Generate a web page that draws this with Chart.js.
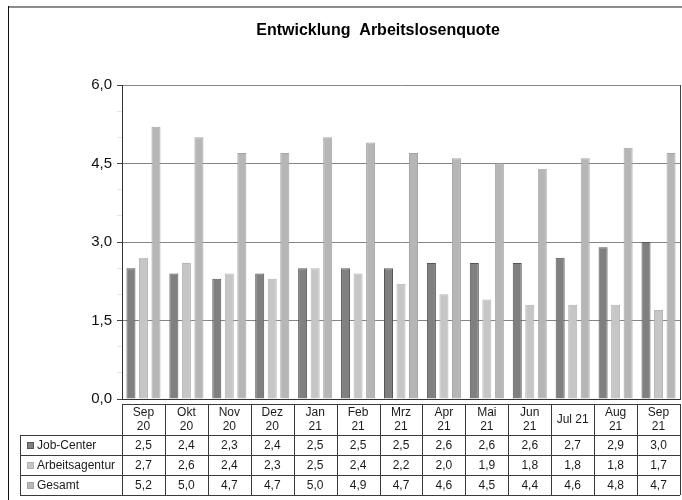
<!DOCTYPE html>
<html>
<head>
<meta charset="utf-8">
<script src="https://cdn.jsdelivr.net/npm/chart.js@4"></script>
<style>
  body { margin: 0; background: #fff; }
  #wrap { width: 682px; height: 500px; }
</style>
</head>
<body>
<div id="wrap"><canvas id="myChart" width="682" height="500"></canvas></div>
<script>
  // months (two-line labels like in the data table)
  const months = [["Sep", "20"], ["Okt", "20"], ["Nov", "20"], ["Dez", "20"], ["Jan", "21"], ["Feb", "21"],
    ["Mrz", "21"], ["Apr", "21"], ["Mai", "21"], ["Jun", "21"], ["Jul 21"], ["Aug", "21"], ["Sep", "21"]];

  const seriesNames = ["Job-Center", "Arbeitsagentur", "Gesamt"];
  const jobCenter = [2.5, 2.4, 2.3, 2.4, 2.5, 2.5, 2.5, 2.6, 2.6, 2.6, 2.7, 2.9, 3.0];
  const arbeitsagentur = [2.7, 2.6, 2.4, 2.3, 2.5, 2.4, 2.2, 2.0, 1.9, 1.8, 1.8, 1.8, 1.7];
  const gesamt = [5.2, 5.0, 4.7, 4.7, 5.0, 4.9, 4.7, 4.6, 4.5, 4.4, 4.6, 4.8, 4.7];

  const chartTitle = "Entwicklung  Arbeitslosenquote";
  const yMax = 6;
  const yMajorStep = 1.5;

  const fillColors = ["#808080", "#c6c6c6", "#b6b6b6"];
  const borderColors = ["#555555", "#b4b4b4", "#a6a6a6"];
  const fontFamily = "'Liberation Sans', Arial, sans-serif";

  function fmt(v) {
    return v.toFixed(1).replace(".", ",");
  }
  function isMajor(v) {
    return Math.abs(v / yMajorStep - Math.round(v / yMajorStep)) < 1e-6;
  }

  //frame, title, right border and the data table below the plot
  const tablePlugin = {
    id: "dataTable",
    beforeDraw(chart) {
      const ctx = chart.ctx;
      ctx.save();
      ctx.fillStyle = "#fff";
      ctx.fillRect(0, 0, chart.width, chart.height);
      ctx.restore();
    },
    afterDraw(chart) {
      const ctx = chart.ctx;
      const area = chart.chartArea;
      const x = chart.scales.x;
      ctx.save();

      // outer frame
      ctx.fillStyle = "#8c8c8c";
      ctx.fillRect(8, 6, chart.width - 8, 2);
      ctx.fillStyle = "#111";
      ctx.fillRect(8, 6, 1, chart.height - 6);

      // title
      ctx.fillStyle = "#000";
      ctx.font = "bold 16px " + fontFamily;
      ctx.textAlign = "center";
      ctx.textBaseline = "middle";
      ctx.fillText(chartTitle, 378, 31);

      // right border of plot
      ctx.strokeStyle = "#444";
      ctx.lineWidth = 1;
      ctx.beginPath();
      ctx.moveTo(area.right + 0.5, area.top);
      ctx.lineTo(area.right + 0.5, area.bottom);
      ctx.stroke();

      // table geometry
      const half = (x.getPixelForValue(1) - x.getPixelForValue(0)) / 2;
      const headTop = area.bottom + 5;
      const headBottom = headTop + 31;
      const rowH = 20;
      const labelLeft = 20;
      const tableRight = x.getPixelForValue(months.length - 1) + half;
      const tableBottom = headBottom + rowH * seriesNames.length;

      ctx.strokeStyle = "#3a3a3a";
      ctx.beginPath();
      // header row box
      ctx.moveTo(area.left, headTop + 0.5);
      ctx.lineTo(tableRight, headTop + 0.5);
      // horizontal row lines
      for (let r = 0; r <= seriesNames.length; r++) {
        const yy = Math.round(headBottom + r * rowH) + 0.5;
        ctx.moveTo(labelLeft, yy);
        ctx.lineTo(tableRight, yy);
      }
      // vertical lines
      ctx.moveTo(labelLeft + 0.5, headBottom);
      ctx.lineTo(labelLeft + 0.5, tableBottom);
      for (let i = 0; i <= months.length; i++) {
        const xx = Math.round(x.getPixelForValue(i) - half) + 0.5;
        ctx.moveTo(xx, headTop);
        ctx.lineTo(xx, tableBottom);
      }
      ctx.stroke();

      ctx.fillStyle = "#1a1a1a";
      ctx.font = "12px " + fontFamily;
      ctx.textAlign = "center";
      ctx.textBaseline = "middle";
      // header labels
      months.forEach((m, i) => {
        const cx = x.getPixelForValue(i);
        if (m.length === 1) {
          ctx.fillText(m[0], cx, (headTop + headBottom) / 2);
        } else {
          ctx.fillText(m[0], cx, headTop + 9);
          ctx.fillText(m[1], cx, headTop + 23);
        }
      });

      // rows
      const rows = chart.data.datasets;
      rows.forEach((ds, r) => {
        const cy = headBottom + r * rowH + rowH / 2 + 0.5;
        ctx.fillStyle = fillColors[r];
        ctx.fillRect(labelLeft + 7, cy - 3.5, 7, 7);
        ctx.strokeStyle = borderColors[r];
        ctx.strokeRect(labelLeft + 7.5, cy - 3, 6, 6);
        ctx.fillStyle = "#1a1a1a";
        ctx.textAlign = "left";
        ctx.fillText(ds.label, labelLeft + 17, cy);
        ctx.textAlign = "center";
        ds.data.forEach((v, i) => {
          ctx.fillText(fmt(v), x.getPixelForValue(i), cy);
        });
      });
      ctx.restore();
    }
  };

  const chart = document.getElementById("myChart").getContext("2d");

  const myBarChart = new Chart(chart, {
    type: "bar",
    data: {
      labels: months,
      datasets: [jobCenter, arbeitsagentur, gesamt].map((d, i) => ({
        label: seriesNames[i],
        data: d,
        backgroundColor: fillColors[i],
        borderColor: borderColors[i],
        borderWidth: 1,
        categoryPercentage: 0.875,
        barPercentage: 0.72,
      })),
    },
    options: {
      responsive: false,
      animation: false,
      events: [],
      layout: {
        padding: { top: 85, right: 2, left: 0, bottom: 0 },
      },
      plugins: {
        legend: { display: false },
        title: { display: false },
        tooltip: { enabled: false },
      },
      scales: {
        x: {
          grid: { display: false },
          ticks: { display: false },
          border: { display: true, color: "#333" },
          afterFit: (scale) => { scale.height = 101; },
        },
        y: {
          min: 0,
          max: yMax,
          ticks: {
            stepSize: 0.5,
            autoSkip: false,
            padding: 5,
            color: "#111",
            font: { family: fontFamily, size: 15 },
            callback: (v) => (isMajor(v) ? fmt(v) : ""),
          },
          grid: {
            color: (c) => (isMajor(c.tick.value) ? "#858585" : "rgba(0,0,0,0)"),
            tickColor: (c) => (isMajor(c.tick.value) ? "#444" : "#e6e6e6"),
            tickLength: 5,
          },
          border: { display: true, color: "#333" },
          afterFit: (scale) => { scale.width = 122; },
        },
      },
    },
    plugins: [tablePlugin],
  });
</script>
</body>
</html>
